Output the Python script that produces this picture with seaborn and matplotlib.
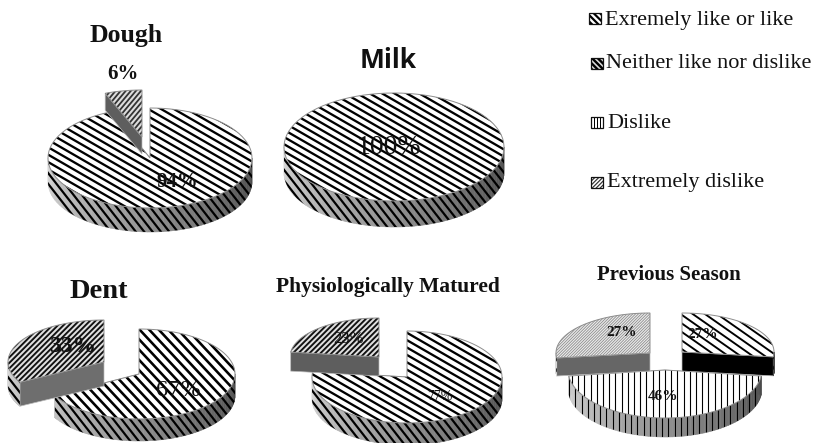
import numpy as np
import matplotlib
matplotlib.use("Agg")
import matplotlib.pyplot as plt
from matplotlib.patches import Polygon
from matplotlib.collections import LineCollection, PolyCollection
import seaborn as sns

# Survey results, in percent, clockwise from twelve o'clock
dough_values = [94, 6]
milk_values = [100]
dent_values = [67, 33]
matured_values = [77, 23]
previous_values = [27, 46, 27]

legend_labels = ["Exremely like or like", "Neither like nor dislike",
                 "Dislike", "Extremely dislike"]

sns.set_theme(style="white")
plt.rcParams["font.family"] = ["Liberation Serif", "DejaVu Serif"]
gray_map = sns.color_palette("gray", as_cmap=True)

# Stripe styles: (direction in degrees, spacing, line width, stripe colour, ground colour)
BROAD = (30, 6.4, 2.3, "#000000", "#ffffff")
BROAD_STEEP = (47, 7.0, 2.6, "#000000", "#ffffff")
FINE_DARK = (-45, 3.9, 1.9, "#111111", "#e0e0e0")
FINE_MID = (-50, 3.9, 1.8, "#333333", "#dcdcdc")
DOTTED = (-45, 2.0, 0.8, "#8a8a8a", "#ececec")
WIDE_RIGHT = (35, 7.0, 1.9, "#000000", "#ffffff")
VERTICAL = (90, 6.2, 1.1, "#000000", "#ffffff")


def point(cx, cy, rx, ry, deg):
    a = np.radians(deg)
    return cx + rx * np.sin(a), cy - ry * np.cos(a)


def arc(cx, cy, rx, ry, a0, a1, n=90):
    x, y = point(cx, cy, rx, ry, np.linspace(a0, a1, n))
    return np.column_stack([x, y])


def stripes(ax, patch, style):
    angle, spacing, width, color, _ = style
    (x0, y0), (x1, y1) = patch.get_xy().min(axis=0), patch.get_xy().max(axis=0)
    mid = np.array([(x0 + x1) / 2, (y0 + y1) / 2])
    span = np.hypot(x1 - x0, y1 - y0)
    t = np.radians(angle)
    along = np.array([np.cos(t), np.sin(t)])
    across = np.array([-along[1], along[0]])
    offsets = np.arange(-span, span, spacing)
    segs = [[mid + o * across - span * along, mid + o * across + span * along]
            for o in offsets]
    lines = LineCollection(segs, colors=color, linewidths=width * 0.72, zorder=patch.get_zorder())
    ax.add_collection(lines)
    lines.set_clip_path(patch)


def draw_slice(ax, cx, cy, rx, ry, depth, a0, a1, top, rim, wall, z):
    whole = a1 - a0 >= 360
    # Cut faces lie beneath the top surface
    for a in (a0, a1):
        if 0 < a % 360:
            px, py = point(cx, cy, rx, ry, a)
            ax.add_patch(Polygon([(cx, cy), (px, py), (px, py + depth), (cx, cy + depth)],
                                 closed=True, fc=wall, ec="#bbbbbb", lw=0.5, zorder=z))
    # Curved rim: a shaded band along the visible front of the slice
    lo, hi = max(a0, 90), min(a1, 270)
    if hi > lo:
        edges = np.linspace(lo, hi, 60)
        quads, shades = [], []
        for b0, b1 in zip(edges[:-1], edges[1:]):
            upper = arc(cx, cy, rx, ry, b0, b1, 3)
            quads.append(np.vstack([upper, upper[::-1] + [0, depth]]))
            shades.append(gray_map(0.28 + 0.57 * ((b0 + b1) / 2 - 90) / 180))
        ax.add_collection(PolyCollection(quads, facecolors=shades, edgecolors=shades,
                                         linewidths=0.4, zorder=z))
        upper = arc(cx, cy, rx, ry, lo, hi)
        band = Polygon(np.vstack([upper, upper[::-1] + [0, depth]]), closed=True,
                       fc="none", ec="none", zorder=z)
        ax.add_patch(band)
        stripes(ax, band, rim)
    # Flat top surface
    curve = arc(cx, cy, rx, ry, a0, a1)
    outline = curve if whole else np.vstack([[cx, cy], curve])
    face = Polygon(outline, closed=True, fc=top[4], ec="none", zorder=z)
    ax.add_patch(face)
    stripes(ax, face, top)
    ax.add_patch(Polygon(outline, closed=True, fc="none", ec="#8c8c8c", lw=0.7, zorder=z))


def draw_pie(ax, values, layouts):
    edges = np.concatenate([[0], np.cumsum(values)]) / np.sum(values) * 360
    for i, lay in sorted(enumerate(layouts), key=lambda p: p[1]["z"]):
        draw_slice(ax, *lay["geom"], edges[i], edges[i + 1], lay["top"], lay["rim"],
                   lay["wall"], lay["z"])
        x, y, size, weight = lay["label"]
        ax.text(x, y, f"{values[i]}%", ha="center", va="center", fontsize=size,
                fontweight=weight, color="#111111", zorder=20)


RIM = (52, 6.6, 2.2, "#000000", "none")
RIM_VERTICAL = (90, 6.2, 1.1, "#000000", "none")

fig = plt.figure(figsize=(8.17, 4.43), dpi=100)
ax = fig.add_axes([0, 0, 1, 1])
ax.set_xlim(0, 817)
ax.set_ylim(443, 0)
ax.axis("off")

draw_pie(ax, dough_values, [
    dict(geom=(150, 158, 102, 50, 24), top=BROAD, rim=RIM, wall="#6e6e6e", z=2,
         label=(177, 182, 15, "bold")),
    dict(geom=(142, 137, 100, 47, 17), top=FINE_MID, rim=RIM, wall="#5e5e5e", z=3,
         label=(123, 74, 15, "bold")),
])
draw_pie(ax, milk_values, [
    dict(geom=(394, 147, 110, 54, 26), top=(30, 6.2, 2.3, "#000000", "#ffffff"), rim=RIM,
         wall="#6e6e6e", z=2, label=(389, 147, 20, "normal")),
])
draw_pie(ax, dent_values, [
    dict(geom=(139, 374, 96, 45, 22), top=BROAD_STEEP, rim=RIM, wall="#6e6e6e", z=2,
         label=(178, 391, 17.5, "normal")),
    dict(geom=(104, 362, 96, 42, 24), top=FINE_DARK, rim=RIM, wall="#6e6e6e", z=3,
         label=(73, 347, 17, "bold")),
])
draw_pie(ax, matured_values, [
    dict(geom=(407, 377, 95, 46, 22), top=BROAD, rim=RIM, wall="#6e6e6e", z=2,
         label=(440, 397, 10, "normal")),
    dict(geom=(379, 357, 89, 39, 19), top=FINE_DARK, rim=RIM, wall="#5e5e5e", z=3,
         label=(349, 339, 12, "normal")),
])
draw_pie(ax, previous_values, [
    dict(geom=(682, 352, 92, 39, 19), top=WIDE_RIGHT, rim=RIM, wall="#000000", z=3,
         label=(703, 334, 11, "bold")),
    dict(geom=(665, 370, 97, 48, 19), top=VERTICAL, rim=RIM_VERTICAL, wall="#6e6e6e", z=2,
         label=(663, 397, 11, "bold")),
    dict(geom=(650, 353, 94, 40, 18), top=DOTTED, rim=RIM, wall="#666666", z=3,
         label=(622, 333, 11, "bold")),
])

# Panel headings
for txt, x, y, size, family in [
    ("Dough", 126, 35, 18.5, "Liberation Serif"),
    ("Dent", 99, 292, 20.5, "Liberation Serif"),
    ("Physiologically Matured", 388, 287, 15.5, "Liberation Serif"),
    ("Previous Season", 669, 275, 15, "Liberation Serif"),
    ("Milk", 388, 60, 19, "Open Sans"),
]:
    ax.text(x, y, txt, ha="center", va="center", fontsize=size, fontweight="bold",
            family=family, color="#111111")

# Legend entries with their stripe swatches
swatch_styles = [(45, 4.5, 2.2, "#000000", "#ffffff"), (45, 4, 2.4, "#000000", "#dddddd"),
                 (90, 3.2, 1.0, "#000000", "#ffffff"), (-45, 2.8, 1.2, "#333333", "#ffffff")]
swatch_boxes = [(589, 13), (591, 58), (591, 117), (591, 177)]
text_rows = [(605, 20), (606, 63), (607, 123), (607, 183)]
for label, style, (bx, by), (tx, ty) in zip(legend_labels, swatch_styles, swatch_boxes, text_rows):
    corners = [(bx, by), (bx + 12, by), (bx + 12, by + 11), (bx, by + 11)]
    box = Polygon(corners, closed=True, fc=style[4], ec="none", zorder=5)
    ax.add_patch(box)
    stripes(ax, box, style)
    ax.add_patch(Polygon(corners, closed=True, fc="none", ec="#111111", lw=0.9, zorder=6))
    ax.text(tx, ty, label, ha="left", va="center", fontsize=16, color="#111111")

fig.savefig("out.png", dpi=100, facecolor="white")
